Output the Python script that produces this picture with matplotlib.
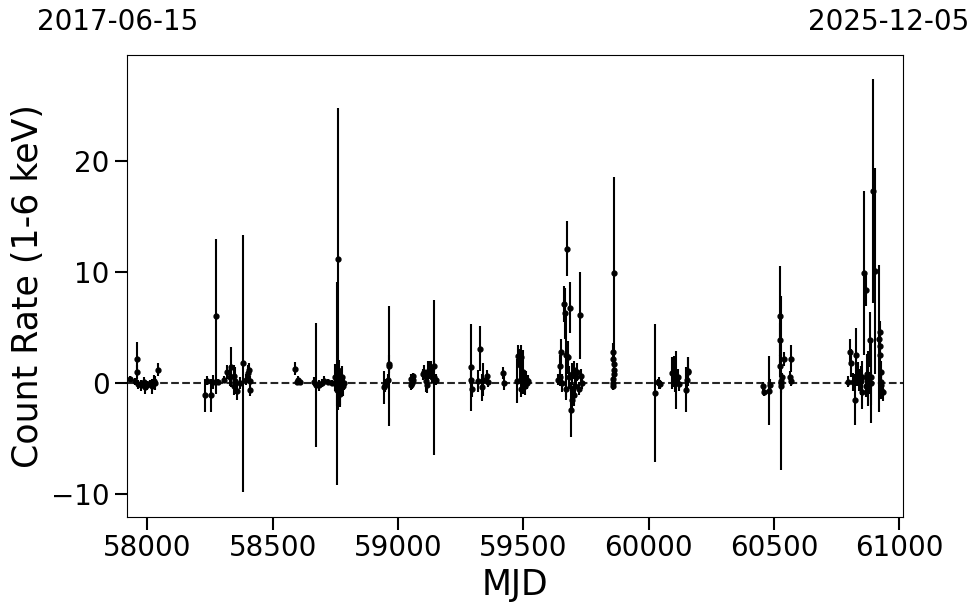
import matplotlib
matplotlib.use("Agg")
import matplotlib.pyplot as plt

# Observation times (MJD), count rates (1-6 keV) and 1-sigma errors
mjd = [
    57932, 57950, 57957, 57957, 57963, 57975, 57985, 57990, 58000, 58010, 58020, 58025, 58030, 58041,
    58229, 58240, 58254, 58260, 58274, 58280, 58305,
    58318, 58330, 58334, 58345, 58345, 58350, 58358, 58370, 58382, 58393, 58400, 58405, 58408, 58410,
    58589, 58597, 58603, 58609,
    58665, 58673, 58685, 58695, 58705, 58720, 58735,
    58750, 58755, 58758, 58760, 58762, 58765, 58768, 58770, 58775, 58780, 58785,
    58944, 58950, 58960, 58962, 58965,
    59050, 59053, 59055, 59058, 59060,
    59100, 59105, 59110, 59115, 59120, 59125, 59130, 59135, 59142, 59145, 59150,
    59290, 59291, 59295, 59320, 59327, 59335, 59340, 59355, 59360, 59419, 59422,
    59475, 59480, 59485, 59490, 59492, 59495, 59498, 59502, 59505, 59510, 59515, 59520,
    59640, 59645, 59647, 59649, 59655, 59660, 59665, 59668, 59670, 59674, 59678, 59680, 59686,
    59690, 59692, 59695, 59700, 59700, 59705, 59710, 59715, 59720, 59726, 59730, 59735,
    59856, 59857, 59858, 59858, 59859, 59860, 59861, 59862, 59863,
    60025, 60035, 60040, 60045,
    60092, 60100, 60105, 60110, 60115, 60120, 60150, 60152, 60155, 60158,
    60455, 60458, 60480, 60482,
    60522, 60523, 60524, 60526, 60527, 60528, 60530, 60540, 60565, 60566, 60567,
    60796, 60803, 60806, 60816, 60823, 60827, 60830, 60836, 60838, 60845, 60849, 60850,
    60859, 60865, 60867, 60870, 60875, 60880, 60883, 60885, 60888, 60893, 60902,
    60920, 60922, 60923, 60924, 60925, 60926, 60927, 60928, 60936,
]
rate = [
    0.35, 0.15, 2.15, 1.0, -0.1, -0.2, 0.1, -0.4, -0.2, 0.0, -0.3, 0.2, 0.0, 1.2,
    -1.1, 0.2, -1.1, 0.1, 6.0, 0.1, 0.3,
    1.0, 0.5, 1.4, 0.6, -0.3, 0.2, -0.7, 0.0, 1.77, 0.3, 0.9, 1.2, -0.6, 0.2,
    1.3, 0.1, 0.3, 0.1,
    0.1, -0.2, -0.2, 0.0, 0.2, 0.1, 0.0,
    0.5, -0.05, -0.6, 1.2, 11.2, 0.3, -0.5, -1.0, 0.5, -0.3, 0.0,
    -0.4, -0.2, 0.3, 1.7, 1.5,
    0.4, -0.2, 0.0, 0.3, 0.6,
    0.8, 1.0, 0.2, -0.2, 0.8, 1.2, 1.3, 0.5, 0.5, 1.5, 0.3,
    0.3, 1.4, -0.5, 0.2, 3.1, -0.4, 0.3, 0.6, 0.1, 0.9, 0.0,
    0.2, 2.4, 1.6, 2.3, -0.5, 0.6, 1.0, 0.1, -0.3, 0.4, 0.0, 0.2,
    0.3, 1.5, 0.5, 2.8, 0.0, 7.1, 6.3, -0.5, 2.5, 12.1, 2.3, 0.5, 6.8,
    -2.4, -1.5, 0.8, 1.2, -1.1, -0.3, 0.5, 1.0, -0.5, 6.1, 0.6, 0.0,
    -0.3, 0.0, 2.8, 2.2, 0.4, 1.7, 1.2, 0.8, 9.9,
    -0.9, 0.1, 0.0, -0.1,
    0.9, 1.0, 0.3, 0.25, 0.5, -0.1, -0.6, 0.3, 1.0, 1.1,
    -0.3, -0.8, -0.7, -0.2,
    1.5, 3.9, 6.0, 0.0, 0.2, -0.3, 0.5, 2.15, 0.5, 2.2, 0.2,
    0.1, 2.8, 1.8, 0.1, -1.5, 2.5, 0.5, 0.9, 0.3, 0.2, -0.8, 0.5,
    9.9, -0.3, 8.4, 0.8, 0.4, 0.0, 3.9, 0.0, 0.5, 17.3, 10.1,
    4.0, 4.6, 3.3, 2.5, 1.0, 0.1, -0.2, -0.6, -0.8,
]
err = [
    0.3, 0.3, 1.5, 0.6, 0.4, 0.5, 0.4, 0.6, 0.4, 0.3, 0.7, 0.5, 0.6, 0.6,
    1.5, 0.4, 1.5, 0.6, 7.0, 0.3, 0.3,
    0.6, 0.8, 1.8, 1.0, 0.8, 1.2, 0.8, 0.5, 11.6, 0.5, 0.7, 0.6, 0.6, 0.4,
    0.6, 0.3, 0.3, 0.2,
    0.4, 5.6, 0.5, 0.4, 0.4, 0.3, 0.3,
    1.2, 9.15, 1.5, 0.8, 13.6, 1.8, 1.5, 1.2, 1.0, 0.9, 0.6,
    1.5, 0.6, 0.5, 0.8, 5.4,
    0.4, 0.4, 0.5, 0.3, 0.3,
    0.5, 0.6, 1.0, 0.7, 1.2, 0.8, 0.7, 0.5, 7.0, 0.6, 0.5,
    0.8, 3.9, 0.8, 1.0, 2.0, 1.2, 1.5, 0.6, 0.5, 0.5, 0.6,
    2.0, 1.0, 1.5, 1.1, 0.8, 1.2, 2.0, 1.0, 0.8, 0.7, 0.5, 0.5,
    0.5, 1.0, 0.8, 1.2, 0.8, 1.6, 2.3, 0.8, 4.0, 2.5, 1.5, 1.0, 2.3,
    2.5, 1.2, 1.0, 0.8, 1.0, 1.0, 0.7, 0.8, 0.6, 3.9, 0.7, 0.5,
    0.3, 0.3, 0.8, 0.6, 0.4, 0.5, 0.5, 0.5, 8.7,
    6.2, 0.3, 0.5, 0.4,
    1.4, 1.4, 1.1, 2.6, 0.8, 0.6, 2.0, 1.0, 1.3, 1.2,
    0.4, 0.4, 3.1, 0.6,
    1.0, 1.5, 4.5, 7.8, 0.8, 0.6, 0.4, 0.6, 0.6, 1.2, 0.5,
    0.5, 1.2, 1.3, 0.8, 2.3, 2.5, 0.8, 1.0, 1.0, 1.3, 1.5, 1.5,
    7.4, 1.0, 1.5, 1.8, 2.5, 1.0, 2.5, 3.6, 2.5, 10.1, 9.3,
    6.6, 1.0, 1.0, 1.0, 1.0, 0.8, 0.8, 0.8, 0.8,
]

xlim = (57919, 61014)
ylim = (-12.07, 29.55)
date_labels = ["2017-06-15", "2025-12-05"]
x_ticks = [58000, 58500, 59000, 59500, 60000, 60500, 61000]
y_ticks = [-10, 0, 10, 20]

fig = plt.figure(figsize=(9.8, 6.13), dpi=100)
ax = fig.add_axes([0.1296, 0.1566, 0.7918, 0.7537])

ax.errorbar(mjd, rate, yerr=err, fmt='o', color='black', ecolor='black',
            markersize=3.5, elinewidth=1.5, capsize=0, zorder=3)
ax.axhline(0, color='black', ls='--', lw=1.5, alpha=0.85, zorder=2)

ax.set_xlim(*xlim)
ax.set_ylim(*ylim)
ax.set_xticks(x_ticks)
ax.set_yticks(y_ticks)
ax.tick_params(axis='both', which='major', labelsize=20, length=9, width=1.5)
ax.set_xlabel("MJD", fontsize=25)
ax.set_ylabel("Count Rate (1-6 keV)", fontsize=25)

ax.text(-0.0115, 1.071, date_labels[0], transform=ax.transAxes, ha='center',
        va='center', fontsize=20)
ax.text(0.982, 1.071, date_labels[1], transform=ax.transAxes, ha='center',
        va='center', fontsize=20)

fig.savefig("out.png", dpi=100)
